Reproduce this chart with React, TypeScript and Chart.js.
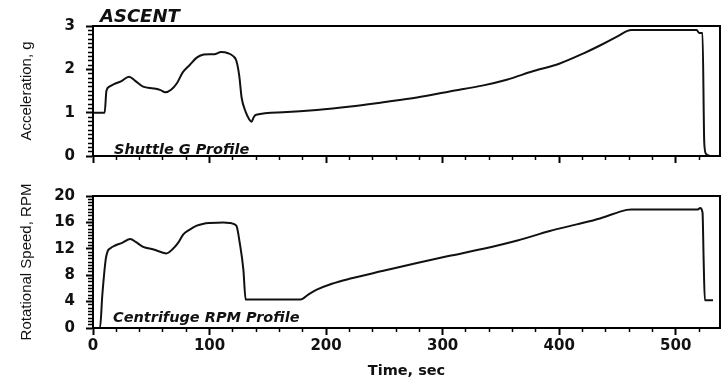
import React, { useEffect, useRef } from 'react';
import { Chart, registerables } from 'chart.js';

Chart.register(...registerables);

// ---- data ----
const accelTime = [0, 10, 11.5, 14, 18, 24, 31, 36, 43, 52, 58, 62, 67, 72, 77, 83, 89, 95, 100, 104, 110, 116, 120, 123, 125.5, 127.5, 131, 134, 136, 138, 140, 163, 192, 221, 249, 278, 306, 335, 355, 378, 400, 421, 435, 450, 458, 462, 490, 518, 520, 523, 524.5, 526, 530];
const accelG = [1.0, 1.0, 1.5, 1.6, 1.66, 1.72, 1.83, 1.74, 1.6, 1.56, 1.52, 1.47, 1.53, 1.68, 1.93, 2.1, 2.27, 2.34, 2.35, 2.35, 2.4, 2.37, 2.31, 2.2, 1.85, 1.35, 1.02, 0.85, 0.79, 0.9, 0.95, 1.01, 1.06, 1.14, 1.24, 1.35, 1.49, 1.63, 1.76, 1.96, 2.13, 2.37, 2.55, 2.76, 2.88, 2.91, 2.91, 2.91, 2.84, 2.84, 0.3, 0.05, 0.0];

const rpmTime = [0, 6, 8, 11, 12.5, 15, 19, 25, 32, 37, 43, 52, 60, 63, 68, 73, 77.5, 83, 89, 95, 100, 112, 118, 123, 126, 129, 131, 178, 185, 192, 205, 220, 250, 278, 305, 335, 365, 392, 415, 435, 458, 462, 500, 519, 521, 523, 524, 525, 532];
const rpmValue = [0, 0, 5, 10.5, 11.6, 12.1, 12.5, 12.9, 13.5, 13.0, 12.3, 11.9, 11.4, 11.3, 11.9, 12.9, 14.2, 14.9, 15.5, 15.8, 15.9, 16.0, 15.9, 15.5, 12.8, 8.9, 4.3, 4.3, 5.1, 5.8, 6.7, 7.45, 8.7, 9.86, 10.9, 12.0, 13.3, 14.7, 15.7, 16.6, 17.9, 17.95, 17.95, 17.95, 18.2, 17.5, 10, 4.2, 4.2];

const timeMajorTicks = [0, 100, 200, 300, 400, 500];
const accelMajorTicks = [0, 1, 2, 3];
const rpmMajorTicks = [0, 4, 8, 12, 16, 20];

const headingText = 'ASCENT';
const accelInnerText = 'Shuttle G Profile';
const rpmInnerText = 'Centrifuge RPM Profile';
const accelAxisTitle = 'Acceleration, g';
const rpmAxisTitle = 'Rotational Speed, RPM';
const timeAxisTitle = 'Time, sec';

// ---- styling / layout ----
const W = 721;
const TOP_H = 176;
const BOT_H = 205;
const INK = '#111';
const TICK_FONT = { family: '"DejaVu Sans", sans-serif', size: 15, weight: 'bold' as const };
const TITLE_FONT = { family: '"Liberation Sans", Arial, sans-serif', size: 15, weight: 'normal' as const };

const isMajorIn = (list: number[]) => (v: number) => list.some((m) => Math.abs(m - v) < 1e-6);

function gridFor(isMajor: (v: number) => boolean, minorLen: number, minorOffset: number) {
  return {
    display: true,
    drawOnChartArea: false,
    drawTicks: true,
    tickLength: 7,
    tickColor: '#000',
    tickWidth: (c: any) => (c.tick && isMajor(c.tick.value) ? 2 : 1.5),
    tickBorderDash: (c: any) => (c.tick && isMajor(c.tick.value) ? [] : [minorLen, 100]),
    tickBorderDashOffset: (c: any) => (c.tick && isMajor(c.tick.value) ? 0 : minorOffset),
  };
}

const framePlugin = {
  id: 'frame',
  afterDraw(chart: any, _args: any, opts: any) {
    const { ctx, chartArea } = chart;
    const { left, top, right, bottom } = chartArea;
    ctx.save();
    ctx.strokeStyle = '#000';
    ctx.lineWidth = 2;
    ctx.strokeRect(left, top, right - left, bottom - top);
    ctx.fillStyle = INK;
    ctx.textAlign = 'left';
    ctx.textBaseline = 'alphabetic';
    if (opts.heading) {
      ctx.font = 'italic bold 18px "DejaVu Sans", sans-serif';
      ctx.fillText(opts.heading, left + 7, top - 4);
    }
    if (opts.inner) {
      ctx.font = 'italic bold 14.5px "DejaVu Sans", sans-serif';
      ctx.fillText(opts.inner, left + opts.innerDx, bottom - opts.innerDy);
    }
    ctx.restore();
  },
};

function makeDataset(xs: number[], ys: number[]) {
  return {
    data: xs.map((x, i) => ({ x, y: ys[i] })),
    borderColor: INK,
    borderWidth: 2,
    pointRadius: 0,
    cubicInterpolationMode: 'monotone',
    fill: false,
  };
}

export default function App() {
  const topRef = useRef<HTMLCanvasElement>(null);
  const botRef = useRef<HTMLCanvasElement>(null);

  useEffect(() => {
    const isTimeMajor = isMajorIn(timeMajorTicks);
    const isAccelMajor = isMajorIn(accelMajorTicks);
    const isRpmMajor = isMajorIn(rpmMajorTicks);

    const topChart = new Chart(topRef.current as HTMLCanvasElement, {
      type: 'line',
      data: { datasets: [makeDataset(accelTime, accelG)] as any },
      options: {
        animation: false,
        responsive: false,
        layout: { padding: { top: 26, right: 1, left: 0, bottom: 0 } },
        plugins: {
          legend: { display: false },
          tooltip: { enabled: false },
          frame: { heading: headingText, inner: accelInnerText, innerDx: 21, innerDy: 2.5 },
        } as any,
        scales: {
          x: {
            type: 'linear',
            min: 0,
            max: 538,
            afterFit: (s: any) => { s.height = TOP_H - 165; },
            ticks: { stepSize: 20, autoSkip: false, includeBounds: false, display: false },
            grid: gridFor(isTimeMajor, 3, 0) as any,
            border: { display: true, color: '#000', width: 2 },
          },
          y: {
            type: 'linear',
            min: 0,
            max: 3,
            afterFit: (s: any) => { s.width = 93; },
            ticks: {
              stepSize: 0.1,
              autoSkip: false,
              includeBounds: false,
              padding: 11,
              color: INK,
              font: TICK_FONT,
              callback: (v: any) => (isAccelMajor(Number(v)) ? String(Math.round(Number(v))) : ''),
            },
            title: { display: true, text: accelAxisTitle, color: INK, font: TITLE_FONT, padding: { top: 18, bottom: 0 } },
            grid: gridFor(isAccelMajor, 4, -2) as any,
            border: { display: true, color: '#000', width: 2 },
          },
        },
      },
      plugins: [framePlugin as any],
    });

    const botChart = new Chart(botRef.current as HTMLCanvasElement, {
      type: 'line',
      data: { datasets: [makeDataset(rpmTime, rpmValue)] as any },
      options: {
        animation: false,
        responsive: false,
        layout: { padding: { top: 14, right: 1, left: 0, bottom: 0 } },
        plugins: {
          legend: { display: false },
          tooltip: { enabled: false },
          frame: { inner: rpmInnerText, innerDx: 20, innerDy: 6.5 },
        } as any,
        scales: {
          x: {
            type: 'linear',
            min: 0,
            max: 538,
            afterFit: (s: any) => { s.height = 53; },
            ticks: {
              stepSize: 20,
              autoSkip: false,
              includeBounds: false,
              maxRotation: 0,
              padding: 2,
              color: INK,
              font: TICK_FONT,
              callback: (v: any) => (isTimeMajor(Number(v)) ? String(Math.round(Number(v))) : ''),
            },
            title: { display: true, text: timeAxisTitle, color: INK, font: { ...TICK_FONT, size: 14.5 }, padding: { top: 0, bottom: 1 } },
            grid: gridFor(isTimeMajor, 3, 0) as any,
            border: { display: true, color: '#000', width: 2 },
          },
          y: {
            type: 'linear',
            min: 0,
            max: 20,
            afterFit: (s: any) => { s.width = 93; },
            ticks: {
              stepSize: 0.5,
              autoSkip: false,
              includeBounds: false,
              padding: 11,
              color: INK,
              font: TICK_FONT,
              callback: (v: any) => (isRpmMajor(Number(v)) ? String(Math.round(Number(v))) : ''),
            },
            title: { display: true, text: rpmAxisTitle, color: INK, font: TITLE_FONT, padding: { top: 18, bottom: 0 } },
            grid: gridFor(isRpmMajor, 4, -2) as any,
            border: { display: true, color: '#000', width: 2 },
          },
        },
      },
      plugins: [framePlugin as any],
    });

    return () => {
      topChart.destroy();
      botChart.destroy();
    };
  }, []);

  return (
    <div style={{ position: 'absolute', left: 0, top: 0, width: W, height: TOP_H + BOT_H, background: '#fff' }}>
      <canvas ref={topRef} width={W} height={TOP_H} style={{ position: 'absolute', left: 0, top: 0, display: 'block' }} />
      <canvas ref={botRef} width={W} height={BOT_H} style={{ position: 'absolute', left: 0, top: TOP_H, display: 'block' }} />
    </div>
  );
}
